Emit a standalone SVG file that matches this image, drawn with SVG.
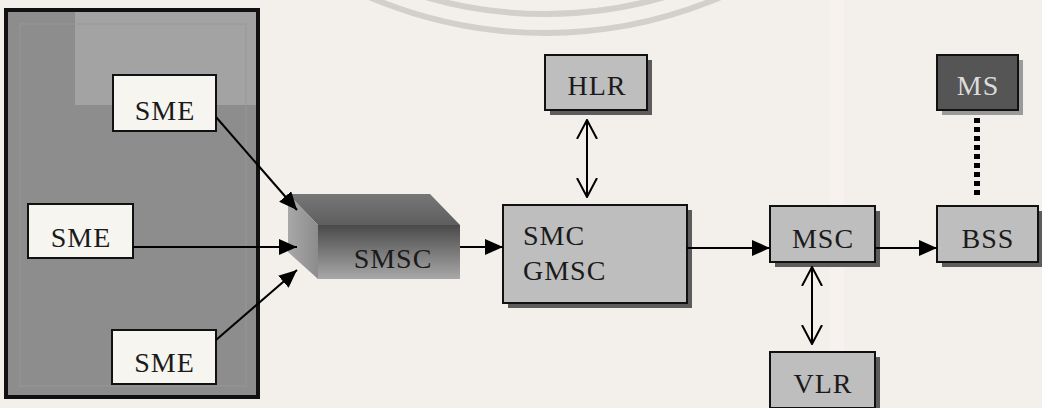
<svg xmlns="http://www.w3.org/2000/svg" width="1042" height="408" viewBox="0 0 1042 408">
  <defs>
    <marker id="solid" viewBox="0 0 18 16" refX="18" refY="8" markerWidth="18" markerHeight="16" markerUnits="userSpaceOnUse" orient="auto">
      <path d="M0,0 L18,8 L0,16 Z" fill="#000"/>
    </marker>
    <marker id="open" viewBox="0 0 20 22" refX="19" refY="11" markerWidth="20" markerHeight="22" markerUnits="userSpaceOnUse" orient="auto">
      <path d="M0,1 L19,11 L0,21" fill="none" stroke="#000" stroke-width="2"/>
    </marker>
    <linearGradient id="front" x1="0" y1="0" x2="0" y2="1">
      <stop offset="0" stop-color="#4a4a4a"/>
      <stop offset="1" stop-color="#a8a8a8"/>
    </linearGradient>
    <linearGradient id="top" x1="0" y1="0" x2="0" y2="1">
      <stop offset="0" stop-color="#777"/>
      <stop offset="1" stop-color="#5e5e5e"/>
    </linearGradient>
    <linearGradient id="side" x1="0" y1="0" x2="1" y2="0">
      <stop offset="0" stop-color="#a8a8a8"/>
      <stop offset="1" stop-color="#8c8c8c"/>
    </linearGradient>
  </defs>
  <style>
    text { font-family: "Liberation Serif", "Times New Roman", serif; font-size: 28px; letter-spacing: 1px; fill: #1a1a1a; }
    .mid { text-anchor: middle; }
    .box { fill: #bebebe; stroke: #111; stroke-width: 2; }
    .shadow { fill: #5c5c5c; }
    .sme { fill: #f7f5f0; stroke: #111; stroke-width: 2; }
    .conn { stroke: #000; stroke-width: 2; fill: none; }
    .wm { fill: none; stroke: #d2d0cc; stroke-width: 6; }
  </style>

  <rect x="0" y="0" width="1042" height="408" fill="#f3f0eb"/>
  <rect x="830" y="0" width="14" height="408" fill="#f7f2ef"/>

  <g id="watermark">
    <circle class="wm" cx="545" cy="-415" r="448"/>
    <circle class="wm" cx="545" cy="-415" r="429"/>
  </g>

  <g id="panel">
    <rect x="6" y="10" width="252" height="387" fill="#8d8d8d" stroke="#111" stroke-width="4"/>
    <rect x="75" y="12" width="181" height="93" fill="#a3a3a3"/>
    <rect x="20" y="24" width="226" height="362" fill="none" stroke="#979797" stroke-width="1"/>
  </g>

  <g id="sme1">
    <rect class="sme" x="113" y="75" width="103" height="56"/>
    <text class="mid" x="165" y="120">SME</text>
  </g>
  <g id="sme2">
    <rect class="sme" x="28" y="204" width="105" height="54"/>
    <text class="mid" x="81" y="247">SME</text>
  </g>
  <g id="sme3">
    <rect class="sme" x="112" y="330" width="104" height="54"/>
    <text class="mid" x="164.5" y="372">SME</text>
  </g>

  <g id="smsc">
    <polygon points="288,194 430,194 460,225 318,225" fill="url(#top)"/>
    <polygon points="288,194 318,225 318,279 288,252" fill="url(#side)"/>
    <rect x="318" y="225" width="142" height="54" fill="url(#front)"/>
    <text class="mid" x="393" y="268">SMSC</text>
  </g>

  <g id="smc">
    <rect class="shadow" x="508" y="210" width="184" height="98"/>
    <rect class="box" x="503" y="205" width="184" height="98"/>
    <text x="523" y="245">SMC</text>
    <text x="523" y="280">GMSC</text>
  </g>

  <g id="hlr">
    <rect class="shadow" x="550" y="60" width="102" height="55"/>
    <rect class="box" x="545" y="55" width="102" height="55"/>
    <text class="mid" x="597" y="95">HLR</text>
  </g>

  <g id="msc">
    <rect class="shadow" x="775" y="211" width="105" height="56"/>
    <rect class="box" x="770" y="206" width="105" height="56"/>
    <text class="mid" x="823" y="248">MSC</text>
  </g>

  <g id="bss">
    <rect class="shadow" x="942" y="211" width="101" height="56"/>
    <rect class="box" x="937" y="206" width="101" height="56"/>
    <text class="mid" x="988" y="248">BSS</text>
  </g>

  <g id="ms">
    <rect x="942" y="60" width="81" height="55" fill="#9a9a9a"/>
    <rect x="937" y="55" width="81" height="55" fill="#555" stroke="#111" stroke-width="2"/>
    <text class="mid" x="978" y="95" style="fill:#dcdcdc">MS</text>
  </g>

  <g id="vlr">
    <rect class="shadow" x="775" y="357" width="105" height="56"/>
    <rect class="box" x="770" y="352" width="105" height="56"/>
    <text class="mid" x="823" y="393">VLR</text>
  </g>

  <g id="connectors">
    <line class="conn" x1="216" y1="117" x2="297" y2="210" marker-end="url(#solid)"/>
    <line class="conn" x1="133" y1="247" x2="297" y2="247" marker-end="url(#solid)"/>
    <line class="conn" x1="216" y1="340" x2="297" y2="270" marker-end="url(#solid)"/>
    <line class="conn" x1="460" y1="247" x2="503" y2="247" marker-end="url(#solid)"/>
    <line class="conn" x1="687" y1="248" x2="770" y2="248" marker-end="url(#solid)"/>
    <line class="conn" x1="875" y1="248" x2="937" y2="248" marker-end="url(#solid)"/>
    <line class="conn" x1="587" y1="159" x2="587" y2="120" marker-end="url(#open)"/>
    <line class="conn" x1="587" y1="159" x2="587" y2="197" marker-end="url(#open)"/>
    <line class="conn" x1="812" y1="305" x2="812" y2="267" marker-end="url(#open)"/>
    <line class="conn" x1="812" y1="305" x2="812" y2="344" marker-end="url(#open)"/>
    <line x1="977" y1="118" x2="977" y2="198" stroke="#000" stroke-width="6" stroke-dasharray="5,4"/>
  </g>
</svg>
